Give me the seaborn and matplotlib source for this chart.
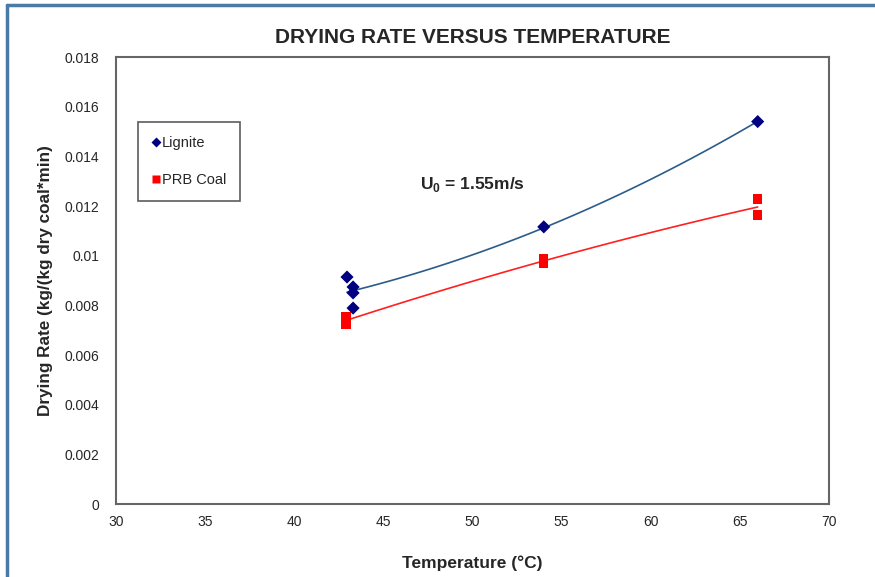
import numpy as np
import pandas as pd
import matplotlib.pyplot as plt
import seaborn as sns

# Data
lignite_temp = [42.96, 43.3, 43.3, 43.3, 54.0, 66.0]
lignite_rate = [0.00914, 0.00874, 0.00850, 0.00789, 0.01116, 0.01540]
prb_temp = [42.9, 42.9, 54.0, 54.0, 66.0, 66.0]
prb_rate = [0.00753, 0.00725, 0.00988, 0.00970, 0.01228, 0.01164]

x_ticks = [30, 35, 40, 45, 50, 55, 60, 65, 70]
y_ticks = [0, 0.002, 0.004, 0.006, 0.008, 0.01, 0.012, 0.014, 0.016, 0.018]
y_labels = ["0", "0.002", "0.004", "0.006", "0.008", "0.01", "0.012", "0.014", "0.016", "0.018"]

sns.set_style("white")
plt.rcParams["font.family"] = ["Liberation Sans", "DejaVu Sans"]
plt.rcParams["mathtext.fontset"] = "custom"
plt.rcParams["mathtext.bf"] = "Liberation Sans:bold"
plt.rcParams["mathtext.rm"] = "Liberation Sans"

df = pd.concat([
    pd.DataFrame({"temp": lignite_temp, "rate": lignite_rate, "coal": "Lignite"}),
    pd.DataFrame({"temp": prb_temp, "rate": prb_rate, "coal": "PRB Coal"}),
])

fig = plt.figure(figsize=(8.75, 5.77), dpi=100)
ax = fig.add_axes([0.1326, 0.1265, 0.8148, 0.7747])

# polynomial trend lines (order 2), like Excel
trend_colors = {"Lignite": "#2c5c8a", "PRB Coal": "#ff2020"}
for name, grp in df.groupby("coal"):
    c = np.polyfit(grp["temp"], grp["rate"], 2)
    xs = np.linspace(grp["temp"].min(), grp["temp"].max(), 100)
    sns.lineplot(x=xs, y=np.polyval(c, xs), ax=ax, color=trend_colors[name], lw=1.2)

sns.scatterplot(data=df, x="temp", y="rate", hue="coal", style="coal",
                markers={"Lignite": "D", "PRB Coal": "s"},
                palette={"Lignite": "#000080", "PRB Coal": "#ff0000"},
                s=45, edgecolor="none", ax=ax, zorder=3)

ax.set_xlim(30, 70)
ax.set_ylim(0, 0.018)
ax.set_xticks(x_ticks)
ax.set_xticklabels([str(t) for t in x_ticks], fontsize=10)
ax.set_yticks(y_ticks)
ax.set_yticklabels(y_labels, fontsize=10)
ax.tick_params(axis="both", direction="inout", length=8, width=1, color="#444444")
ax.tick_params(axis="x", pad=4)
ax.tick_params(axis="y", pad=8)

for s in ax.spines.values():
    s.set_color("#666666")
    s.set_linewidth(1.5)

ax.set_xlabel("Temperature (°C)", fontsize=12.5, fontweight="bold", labelpad=19)
ax.set_ylabel("Drying Rate (kg/(kg dry coal*min)", fontsize=12.3, fontweight="bold", labelpad=8)
ax.set_title("DRYING RATE VERSUS TEMPERATURE", fontsize=15, fontweight="bold", pad=10)

ax.text(49.97, 0.01285, r"U$_{\mathbf{0}}$ = 1.55m/s", fontsize=12.5, fontweight="bold",
        ha="center", va="center")

handles, labels = ax.get_legend_handles_labels()
leg = ax.legend(handles, labels, loc="upper left", bbox_to_anchor=(0.031, 0.855),
                borderaxespad=0, frameon=True, fancybox=False, fontsize=10.5,
                handletextpad=0.1, handlelength=0.6, labelspacing=1.6,
                borderpad=0.95, markerscale=0.8)
leg.get_frame().set_edgecolor("#333333")
leg.get_frame().set_linewidth(1.2)

# blue page border
fig.add_artist(plt.Line2D([0.008, 0.008], [0, 0.991], color="#4a7aa8", lw=2.5))
fig.add_artist(plt.Line2D([0.008, 1.0], [0.991, 0.991], color="#4a7aa8", lw=2.5))

fig.savefig("out.png", dpi=100)
